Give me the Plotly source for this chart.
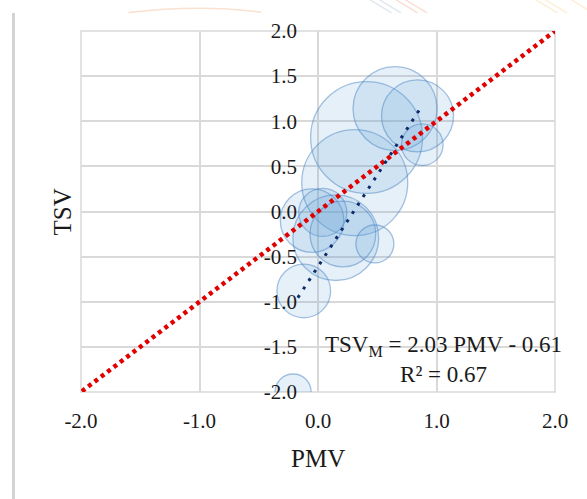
import plotly.graph_objects as go

# Bubble data: mean PMV, mean TSV and weight (number of votes) per group
pmv = [0.41, 0.31, 0.65, 0.84, 0.88, 0.04, -0.05, 0.15, 0.21, 0.48, -0.12, -0.21]
tsv = [0.82, 0.32, 1.14, 1.06, 0.74, -0.01, -0.10, -0.29, -0.25, -0.36, -0.88, -2.00]
votes = [87, 78, 49, 36, 12, 16, 28, 51, 30, 10, 20, 9]

# Weighted regression of TSV on PMV
slope = 2.03
intercept = -0.61
r_squared = 0.67
fit_pmv = [-0.17, 0.875]

# 1:1 reference line (TSV = PMV)
ref_pmv = [-2.1, 2.0]

tick_vals = [-2.0, -1.0, 0.0, 1.0, 2.0]
ytick_vals = [-2.0, -1.5, -1.0, -0.5, 0.0, 0.5, 1.0, 1.5, 2.0]

FONT = "Liberation Serif, Times New Roman, serif"
GRID = "#d9d9d9"

fig = go.Figure()

fig.add_trace(go.Scatter(
    x=pmv, y=tsv, mode="markers",
    marker=dict(
        size=votes, sizemode="area", sizeref=1 / 72,
        color="rgba(91,155,213,0.21)",
        line=dict(color="rgba(70,130,195,0.7)", width=1.3),
    ),
    hoverinfo="skip", showlegend=False,
))

fig.add_trace(go.Scatter(
    x=ref_pmv, y=ref_pmv, mode="lines",
    line=dict(color="#e00000", width=4.5, dash="4px,4px"),
    cliponaxis=False, showlegend=False, hoverinfo="skip",
))

fig.add_trace(go.Scatter(
    x=fit_pmv, y=[slope * v + intercept for v in fit_pmv], mode="lines",
    line=dict(color="#0d2a6b", width=3, dash="3px,7px"),
    showlegend=False, hoverinfo="skip",
))

sign = "-" if intercept < 0 else "+"
fig.add_annotation(
    x=1.055, y=-1.64, xref="x", yref="y",
    text=f"TSV<sub>M</sub> = {slope:.2f} PMV {sign} {abs(intercept):.2f}<br>R² = {r_squared:.2f}",
    showarrow=False, align="center", xanchor="center", yanchor="middle",
    font=dict(family=FONT, size=23, color="#1a1a1a"),
)

# Axis titles
fig.add_annotation(x=0.5, y=-0.183, xref="paper", yref="paper", text="PMV",
                   xanchor="center", yanchor="middle",
                   showarrow=False, font=dict(family=FONT, size=25, color="#1a1a1a"))
fig.add_annotation(x=-0.038, y=0.5, xref="paper", yref="paper", text="TSV",
                   textangle=-90, xanchor="center", yanchor="middle", showarrow=False,
                   font=dict(family=FONT, size=25, color="#1a1a1a"))

# Plot-area border and page frame
fig.add_shape(type="rect", xref="x domain", yref="y domain", x0=0, x1=1, y0=0, y1=1,
              line=dict(color=GRID, width=1.5), layer="below")
fig.add_shape(type="line", xref="paper", yref="paper", x0=-0.1424, x1=-0.1424,
              y0=1.05, y1=-0.3, line=dict(color="#d4d4d4", width=3))
# faint header ornaments
for x0, col in [(0.61, "rgba(170,185,205,0.35)"), (0.63, "rgba(170,185,205,0.35)"),
                (0.665, "rgba(240,160,130,0.35)"), (0.685, "rgba(240,160,130,0.35)"),
                (0.96, "rgba(245,205,140,0.35)"), (0.98, "rgba(245,205,140,0.35)"),
                (1.035, "rgba(245,205,140,0.35)")]:
    fig.add_shape(type="line", xref="paper", yref="paper", x0=x0, x1=x0 + 0.045,
                  y0=1.086, y1=1.05, line=dict(color=col, width=1.5))
fig.add_shape(type="path", xref="paper", yref="paper",
              path="M 0.10 1.051 Q 0.25 1.075 0.38 1.052",
              line=dict(color="rgba(240,170,120,0.35)", width=1.5))

fig.update_xaxes(
    range=[-2, 2], tickvals=tick_vals, ticktext=[f"{v:.1f}" for v in tick_vals],
    showgrid=True, gridcolor=GRID, gridwidth=1.5, zeroline=False, showline=False,
    ticks="", ticklabelstandoff=14,
    tickfont=dict(family=FONT, size=21, color="#1a1a1a"),
)
fig.update_yaxes(
    range=[-2, 2], tickvals=ytick_vals, ticktext=[f"{v:.1f}" for v in ytick_vals],
    showgrid=True, gridcolor=GRID, gridwidth=1.5, zeroline=False, showline=False,
    anchor="free", position=0.5, ticks="", ticklabelstandoff=21,
    tickfont=dict(family=FONT, size=21, color="#1a1a1a"),
)

fig.update_layout(
    width=587, height=499,
    margin=dict(l=81, r=32, t=31, b=107),
    paper_bgcolor="white", plot_bgcolor="white",
    showlegend=False,
)

fig.write_html("out.html")
